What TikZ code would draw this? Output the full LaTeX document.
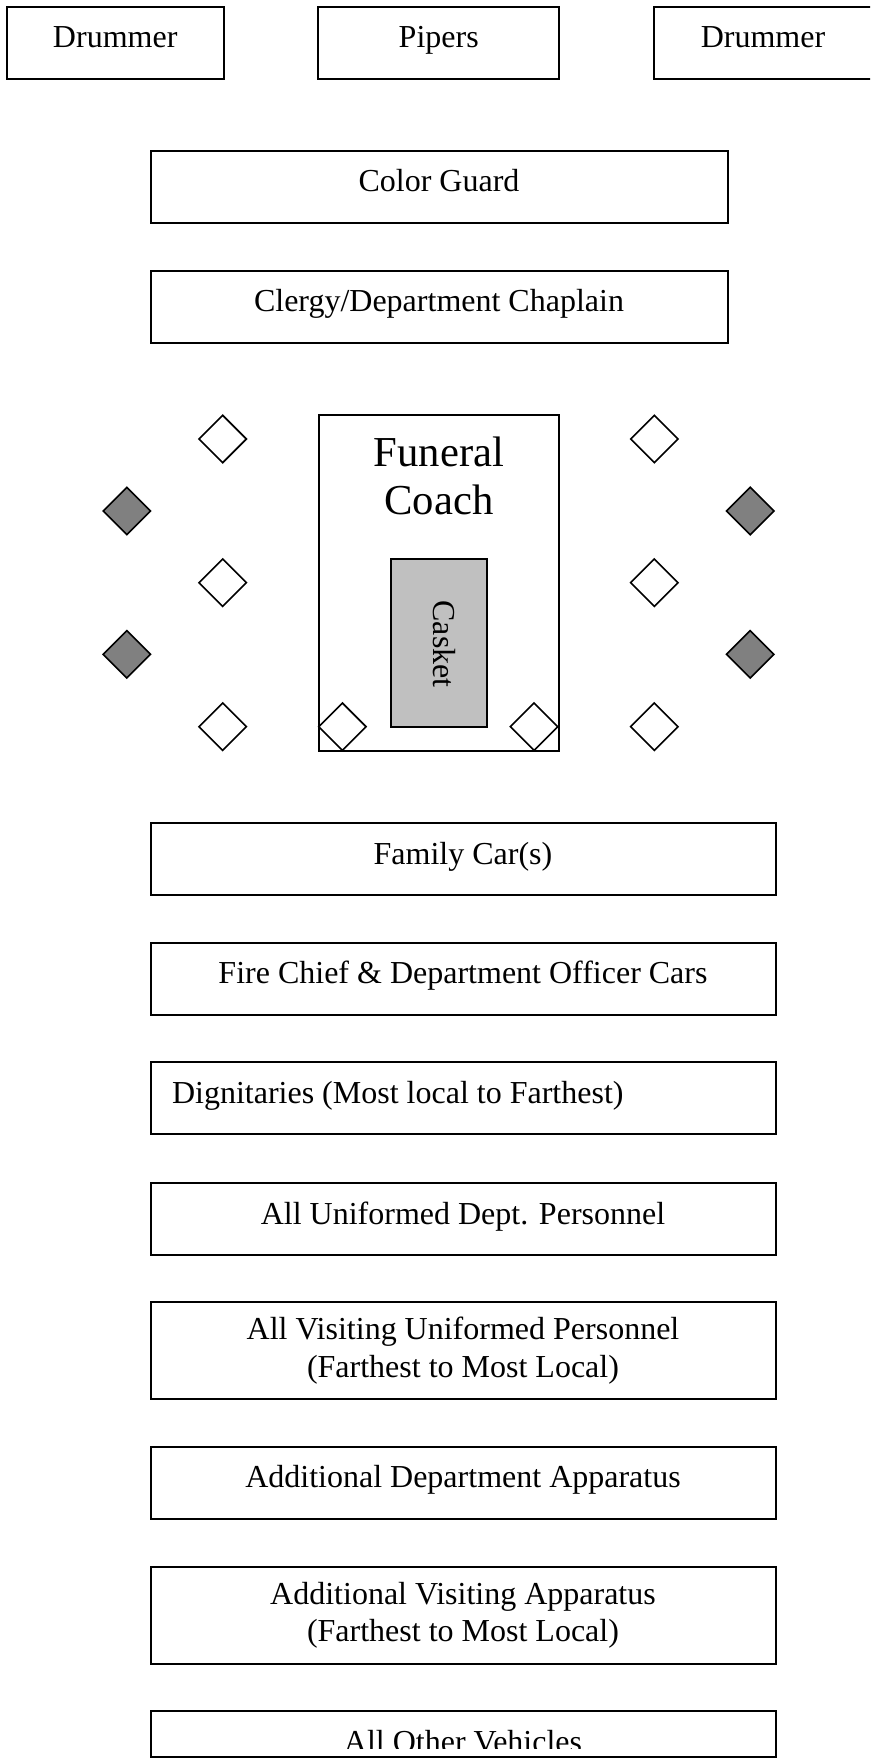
\documentclass[tikz,border=0pt]{standalone}
\usepackage{fontspec}
\setmainfont{Liberation Serif}
\usetikzlibrary{shapes.geometric}

\definecolor{casketgray}{HTML}{C0C0C0}
\definecolor{honorgray}{HTML}{808080}
\newcommand{\pxu}{0.375pt}

\tikzset{
    box/.style={draw, line width=0.75pt, inner sep=0pt, text height=8pt, text depth=4.25pt},
    tallbox/.style={draw, line width=0.75pt, inner sep=0pt, align=center},
    guard/.style={draw, diamond, line width=0.6pt, minimum width=48*\pxu, minimum height=48*\pxu, inner sep=0pt, fill=white},
    honor/.style={guard, fill=honorgray}
}

\begin{document}
\begin{tikzpicture}[x=\pxu, y=-\pxu, font=\fontsize{12pt}{14pt}\selectfont]
    \clip (0,0) rectangle (870,1760);

    % Dàn nhạc đi đầu
    \node[box, minimum width=217*\pxu, minimum height=72*\pxu] (drumL) at (115.2,42.9) {Drummer};
    \node[box, minimum width=241*\pxu, minimum height=72*\pxu] (pipers) at (438.7,42.9) {Pipers};
    \node[box, minimum width=218*\pxu, minimum height=72*\pxu] (drumR) at (763,42.9) {Drummer};

    \node[box, minimum width=577*\pxu, minimum height=72*\pxu] (colorguard) at (439,186.7) {Color Guard};
    \node[box, minimum width=577*\pxu, minimum height=72*\pxu] (clergy) at (439,306.9) {Clergy/Department Chaplain};

    % Xe tang và quan tài
    \node[draw, line width=0.75pt, minimum width=240*\pxu, minimum height=336*\pxu] (coach) at (439,582.7) {};
    \node[anchor=north, inner sep=0pt, align=center, font=\fontsize{16pt}{18pt}\selectfont] (coachlbl) at (439,436) {Funeral\\Coach};
    \node[draw, line width=0.75pt, fill=casketgray, minimum width=96*\pxu, minimum height=168*\pxu] (casket) at (438.5,642.8) {};
    \node[rotate=-90, anchor=west, inner sep=0pt] (casketlbl) at (444,600) {Casket};

    % Người khiêng và đội danh dự
    \foreach \yy [count=\i] in {439,582.7,726.7} {
        \node[guard] (bearL\i) at (222.7,\yy) {};
        \node[guard] (bearR\i) at (654.3,\yy) {};
    }
    \node[guard] (bearIL) at (342.4,726.7) {};
    \node[guard] (bearIR) at (534,726.7) {};
    \foreach \yy [count=\i] in {511,654.3} {
        \node[honor] (honorL\i) at (126.8,\yy) {};
        \node[honor] (honorR\i) at (750.2,\yy) {};
    }

    % Đoàn xe phía sau
    \node[box, minimum width=625*\pxu, minimum height=72*\pxu] (family) at (463,859) {Family Car(s)};
    \node[box, minimum width=625*\pxu, minimum height=72*\pxu] (chief) at (463,978.7) {Fire Chief \& Department Officer Cars};
    \node[box, minimum width=625*\pxu, minimum height=72*\pxu] (dignit) at (463,1098.4) {};
    \node[anchor=base west, inner sep=0pt] (dignitlbl) at (171.5,1103.4) {Dignitaries (Most local to Farthest)};
    \node[box, minimum width=625*\pxu, minimum height=72*\pxu] (uniform) at (463,1219) {All Uniformed Dept. Personnel};
    \node[tallbox, minimum width=625*\pxu, minimum height=97*\pxu] (visiting) at (463,1350.5) {All Visiting Uniformed Personnel\\(Farthest to Most Local)};
    \node[box, minimum width=625*\pxu, minimum height=72*\pxu] (deptapp) at (463,1482.5) {Additional Department Apparatus};
    \node[tallbox, minimum width=625*\pxu, minimum height=97*\pxu] (visitapp) at (463,1615) {Additional Visiting Apparatus\\(Farthest to Most Local)};

    \node[draw, line width=0.75pt, minimum width=625*\pxu, minimum height=46*\pxu] (others) at (463,1733.7) {};
    \begin{scope}
        \clip (150,1711) rectangle (776,1748);
        \node[anchor=base, inner sep=0pt] (otherslbl) at (463,1752) {All Other Vehicles};
    \end{scope}
\end{tikzpicture}
\end{document}
